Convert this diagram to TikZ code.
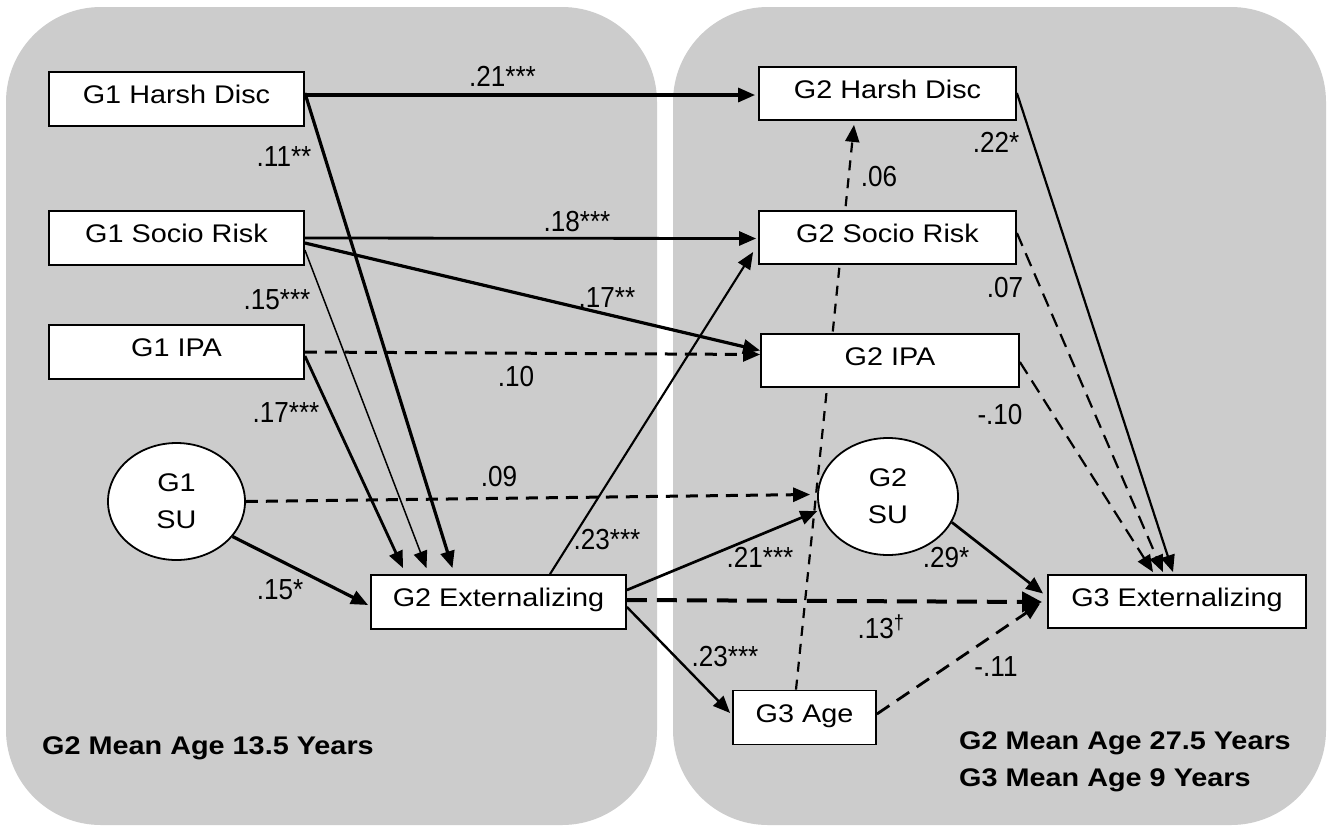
\documentclass[tikz,border=0pt]{standalone}
\usepackage{fontspec}
\setmainfont[FakeStretch=1.13]{Liberation Sans}
\newfontfamily\coeffont[FakeStretch=0.9]{Liberation Sans}
\usetikzlibrary{arrows.meta,calc,shapes.geometric}
\pgfdeclarelayer{panels}
\pgfdeclarelayer{links}
\pgfsetlayers{panels,links,main}
\definecolor{panelgray}{HTML}{CCCCCC}

\begin{document}
\begin{tikzpicture}[x=1pt,y=-1pt,
  var/.style={draw,line width=1.8pt,fill=white,minimum width=255pt,minimum height=54pt,inner sep=0pt,
    text height=18pt,text depth=9pt,font=\fontsize{25.5}{30}\selectfont},
  lat/.style={ellipse,draw,line width=1.8pt,fill=white,minimum width=137pt,minimum height=117pt,inner sep=0pt,
    align=center,font=\fontsize{25.5}{37}\selectfont},
  coef/.style={font=\coeffont\fontsize{29}{32}\selectfont,inner sep=1pt},
  tag/.style={font=\bfseries\fontsize{25.5}{37}\selectfont,anchor=west,align=left,inner sep=0pt},
  tip/.style={-{Triangle[length=17pt,width=14pt]}},
  lnk/.style={tip,line width=3.2pt},
  lnkmid/.style={tip,line width=2.4pt},
  lnkthin/.style={tip,line width=1.5pt},
  lnkdash/.style={tip,line width=3pt,dash pattern=on 12pt off 8pt},
  lnkdashthin/.style={tip,line width=2.2pt,dash pattern=on 14pt off 8pt},
  lnkdashwide/.style={-{Triangle[length=20pt,width=20pt]},line width=4pt,dash pattern=on 20pt off 10pt},
  lnkdotted/.style={tip,line width=2.2pt,dash pattern=on 10pt off 8pt},
  panel/.style={fill=panelgray,rounded corners=95pt}
]
\useasboundingbox (0,0) rectangle (1331,831);

% two time panels
\begin{pgfonlayer}{panels}
  \fill[white] (0,0) rectangle (1331,831);
  \path[panel] (6,7) rectangle (657,825);
  \path[panel] (673,7) rectangle (1326,825);
\end{pgfonlayer}

% variables
\node[var] (h1) at (176.5,99) {G1 Harsh Disc};
\node[var] (s1) at (176.5,238) {G1 Socio Risk};
\node[var] (i1) at (176.5,352) {G1 IPA};
\node[lat] (su1) at (176.5,501.5) {G1\\SU};
\node[var] (e2) at (498.5,602) {G2 Externalizing};
\node[var,minimum width=257pt,minimum height=53pt] (h2) at (887.5,93.5) {G2 Harsh Disc};
\node[var,minimum width=257pt,minimum height=53pt] (s2) at (887.5,237.5) {G2 Socio Risk};
\node[var,minimum width=258pt,minimum height=53pt] (i2) at (890,360.5) {G2 IPA};
\node[lat,minimum width=140pt] (su2) at (888,496.5) {G2\\SU};
\node[var,minimum width=143pt] (a3) at (804.5,717.5) {G3 Age};
\node[var,minimum width=258pt,minimum height=53pt] (e3) at (1177,601.5) {G3 Externalizing};

% paths
\begin{pgfonlayer}{links}
  \draw[lnk] ($(h1.east)+(0,-4)$) -- ($(h2.west)+(-3,1.5)$);
  \draw[lnk] ($(h1.east)+(0,-6)$) -- ($(e2.north)+(-46,-6)$);
  \draw[lnk,line width=2.8pt] (s1.east) -- ($(s2.west)+(-2,1)$);
  \draw[lnk] ($(s1.east)+(0,5)$) -- ($(i2.west)+(0,-10)$);
  \draw[lnkthin] ($(s1.east)+(0,12)$) -- ($(e2.north)+(-72,-6)$);
  \draw[lnkdash] (i1.east) -- ($(i2.west)+(0,-6)$);
  \draw[lnk,line width=2.8pt] ($(i1.east)+(0,4)$) -- ($(e2.north)+(-95.5,-6)$);
  \draw[lnkdash] (su1.east) -- ($(su2.west)+(-7,-2)$);
  \draw[lnk] (su1.-32) -- ($(e2.west)+(-2,3)$);
  \draw[lnkmid,line width=2.1pt] ($(e2.north)+(51.5,0)$) -- ($(s2.west)+(-5,14.5)$);
  \draw[lnkmid,line width=2.7pt] ($(e2.east)+(0,-12)$) -- ($(su2.192)+(-2,0)$);
  \draw[lnkdashwide] ($(e2.east)+(0,-2)$) -- ($(e3.west)+(-5,0.5)$);
  \draw[lnkmid] ($(e2.east)+(0,5)$) -- ($(a3.west)+(-2,-4.5)$);
  \draw[lnkmid,line width=2.7pt] (su2.-22) -- ($(e3.west)+(-4,-8)$);
  \draw[lnkdash,line width=2.8pt,dash pattern=on 15pt off 9pt] ($(a3.east)+(0,-3.5)$) -- ($(e3.west)+(-7,2)$);
  \draw[lnkmid,line width=2.2pt] ($(h2.east)+(0,-0.5)$) -- ($(e3.north)+(-4,-2)$);
  \draw[lnkdashthin] ($(s2.east)+(0,-4.5)$) -- ($(e3.north)+(-14,-2)$);
  \draw[lnkdashthin] ($(i2.east)+(0,1.5)$) -- ($(e3.north)+(-24,-2)$);
  \draw[lnkdotted] ($(a3.north)+(-8.5,0)$) -- ($(h2.south)+(-33.5,4)$);
\end{pgfonlayer}

% path coefficients
\node[coef] (c1) at (502.5,76) {.21***};
\node[coef] (c2) at (284,157) {.11**};
\node[coef] (c3) at (577,222) {.18***};
\node[coef] (c4) at (607,298) {.17**};
\node[coef] (c5) at (277,300) {.15***};
\node[coef] (c6) at (516,377) {.10};
\node[coef] (c7) at (286,413) {.17***};
\node[coef] (c8) at (499,477) {.09};
\node[coef] (c9) at (607,540) {.23***};
\node[coef] (c10) at (280,590) {.15*};
\node[coef] (c11) at (760,557) {.21***};
\node[coef] (c12) at (946,558) {.29*};
\node[coef] (c13) at (881,627) {.13\textsuperscript{†}};
\node[coef] (c14) at (996,667) {-.11};
\node[coef] (c15) at (725,657) {.23***};
\node[coef] (c16) at (996,142) {.22*};
\node[coef] (c17) at (879,177) {.06};
\node[coef] (c18) at (1005,288) {.07};
\node[coef] (c19) at (1000,415) {-.10};

% panel captions
\node[tag] (t1) at (42,748) {G2 Mean Age 13.5 Years};
\node[tag,anchor=north west] (t2) at (959,731) {G2 Mean Age 27.5 Years\\G3 Mean Age 9 Years};
\end{tikzpicture}
\end{document}
